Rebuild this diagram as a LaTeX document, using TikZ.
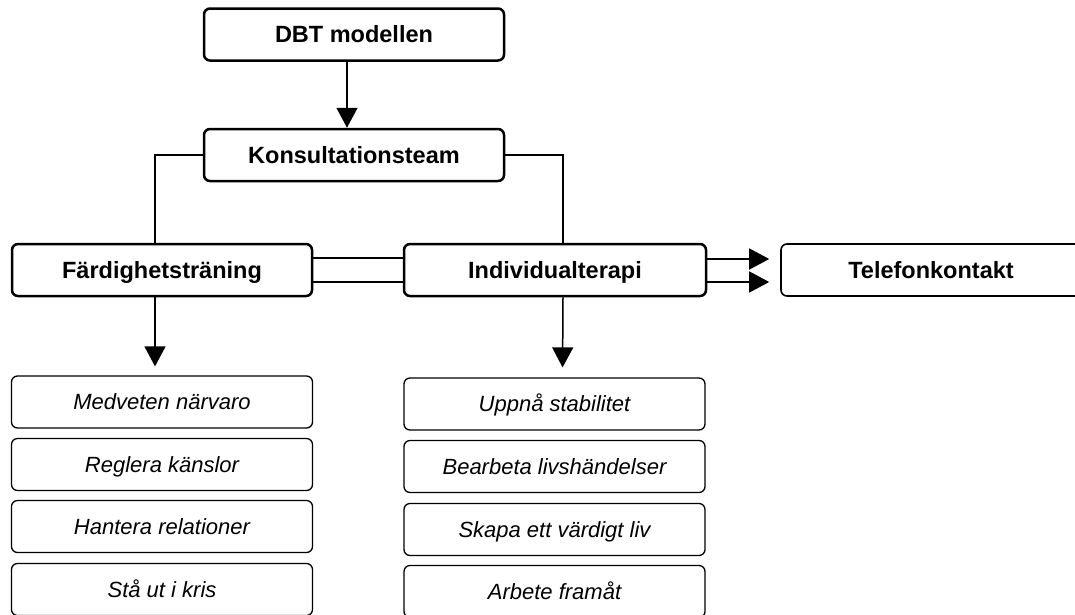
\documentclass[tikz,border=0pt]{standalone}
\usepackage{fontspec}
\setmainfont{Liberation Sans}
\usetikzlibrary{arrows.meta}

\begin{document}
\begin{tikzpicture}[x=1pt,y=-1pt,
  headbox/.style={draw=black,line width=2.5pt,rounded corners=6pt,minimum width=300pt,minimum height=52pt,inner sep=0pt,text height=16.9pt,text depth=0pt,font=\fontsize{23.5}{28}\selectfont\bfseries},
  itembox/.style={draw=black,line width=1.3pt,rounded corners=6pt,minimum width=301pt,minimum height=52pt,inner sep=0pt,text height=15.8pt,text depth=0pt,font=\fontsize{22}{26}\selectfont\itshape},
  link/.style={draw=black,line width=1.5pt},
  arrow/.style={link,-{Triangle[width=21pt,length=20pt]}}]
% 1075px x 614px, bottom boxes run off the page
\clip (0,0) rectangle (1075,614);
\node[headbox] (dbt) at (354,34.5) {DBT modellen};
\node[headbox] (konsult) at (354,155) {Konsultationsteam};
\node[headbox] (fard) at (162,270) {Färdighetsträning};
\node[headbox,minimum width=302pt] (indiv) at (555,270) {Individualterapi};
\node[headbox,line width=1.6pt] (telefon) at (931,270) {Telefonkontakt};
\node[itembox] (f1) at (162,402) {Medveten närvaro};
\node[itembox] (f2) at (162,464.5) {Reglera känslor};
\node[itembox] (f3) at (162,526.5) {Hantera relationer};
\node[itembox] (f4) at (162,589.5) {Stå ut i kris};
\node[itembox] (i1) at (554.5,404) {Uppnå stabilitet};
\node[itembox] (i2) at (554.5,466.5) {Bearbeta livshändelser};
\node[itembox] (i3) at (554.5,529.5) {Skapa ett värdigt liv};
\node[itembox] (i4) at (554.5,591.5) {Arbete framåt};
\draw[arrow] ([xshift=-7pt]dbt.south) -- ([xshift=-7pt]konsult.north);
\draw[link] (konsult.west) -| ([xshift=-7pt]fard.north);
\draw[link] (konsult.east) -| ([xshift=8pt]indiv.north);
\draw[link] ([yshift=12pt]fard.east) -- ([yshift=12pt]indiv.west);
\draw[link] ([yshift=-12pt]fard.east) -- ([yshift=-12pt]indiv.west);
\draw[arrow,shorten >=11pt] ([yshift=11pt]indiv.east) -- ([yshift=11pt]telefon.west);
\draw[arrow,shorten >=11pt] ([yshift=-12pt]indiv.east) -- ([yshift=-12pt]telefon.west);
\draw[arrow,shorten >=9pt] ([xshift=-7pt]fard.south) -- ([xshift=-7pt]f1.north);
\draw[arrow,shorten >=10pt] ([xshift=8pt]indiv.south) -- ([xshift=8pt]i1.north);
\end{tikzpicture}
\end{document}
